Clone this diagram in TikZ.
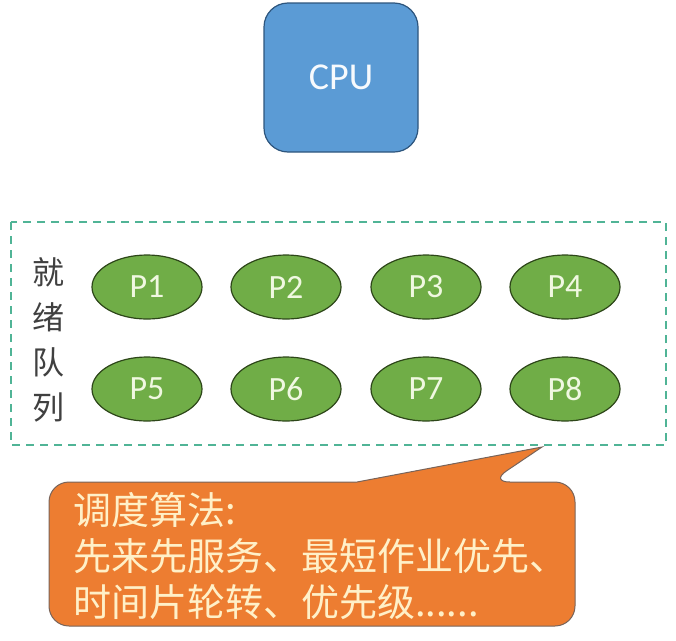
\documentclass[tikz,border=0pt]{standalone}
\usepackage{fontspec}
\setmainfont{Carlito}
\newfontfamily\cjk{Noto Sans CJK SC}
\usetikzlibrary{shapes.geometric}

\definecolor{cpublue}{RGB}{91,155,213}
\definecolor{cpuedge}{RGB}{45,85,125}
\definecolor{pgreen}{RGB}{112,173,71}
\definecolor{pedge}{RGB}{45,70,25}
\definecolor{ptext}{RGB}{240,248,225}
\definecolor{dashgreen}{RGB}{80,180,150}
\definecolor{calloutorange}{RGB}{237,125,49}
\definecolor{calloutedge}{RGB}{120,100,90}
\definecolor{callouttext}{RGB}{255,240,200}

\tikzset{
	proc/.style={ellipse, draw=pedge, fill=pgreen, line width=1.2pt,
		minimum width=110pt, minimum height=64pt, inner sep=0pt,
		text=ptext, font=\fontsize{34}{38}\selectfont},
	cpubox/.style={draw=cpuedge, fill=cpublue, rounded corners=24pt, line width=1.2pt,
		minimum width=154pt, minimum height=149pt,
		text=white!95!cpublue, font=\fontsize{38}{42}\selectfont}
}

\begin{document}
\begin{tikzpicture}[x=1pt,y=-1pt]

	\useasboundingbox (0,0) rectangle (676,640);

	\node[cpubox] (cpu) at (341,77.5) {CPU};

	% ready queue
	\draw[dashgreen, line width=1.5pt, dash pattern=on 8pt off 6pt] (11,222) rectangle (666,445);
	\node[font=\cjk\fontsize{32}{45}\selectfont, text=black!75, align=center, inner sep=0pt] (queue) at (48,340) {就\\绪\\队\\列};

	\foreach \i/\x/\y in {1/147/287, 2/286/287, 3/426/287, 4/565/287,
		5/147/389, 6/286/389, 7/426/389, 8/565/389}
		\node[proc] (p\i) at (\x,\y) {P\i};

	% callout
	\coordinate (tip) at (542,447);
	\draw[fill=calloutorange, draw=calloutedge, line width=1pt]
		(357,482) [rounded corners=20pt] -- (49,482) -- (49,626) -- (575,626) -- (575,482)
		-- (490,482) [sharp corners] -- (tip) -- cycle;
	\node[anchor=base west, inner sep=0pt, align=left, text=callouttext,
		font=\cjk\fontsize{38}{46}\selectfont] (algo) at (73,616)
		{调度算法:\\先来先服务、最短作业优先、\\时间片轮转、优先级......};

\end{tikzpicture}
\end{document}
